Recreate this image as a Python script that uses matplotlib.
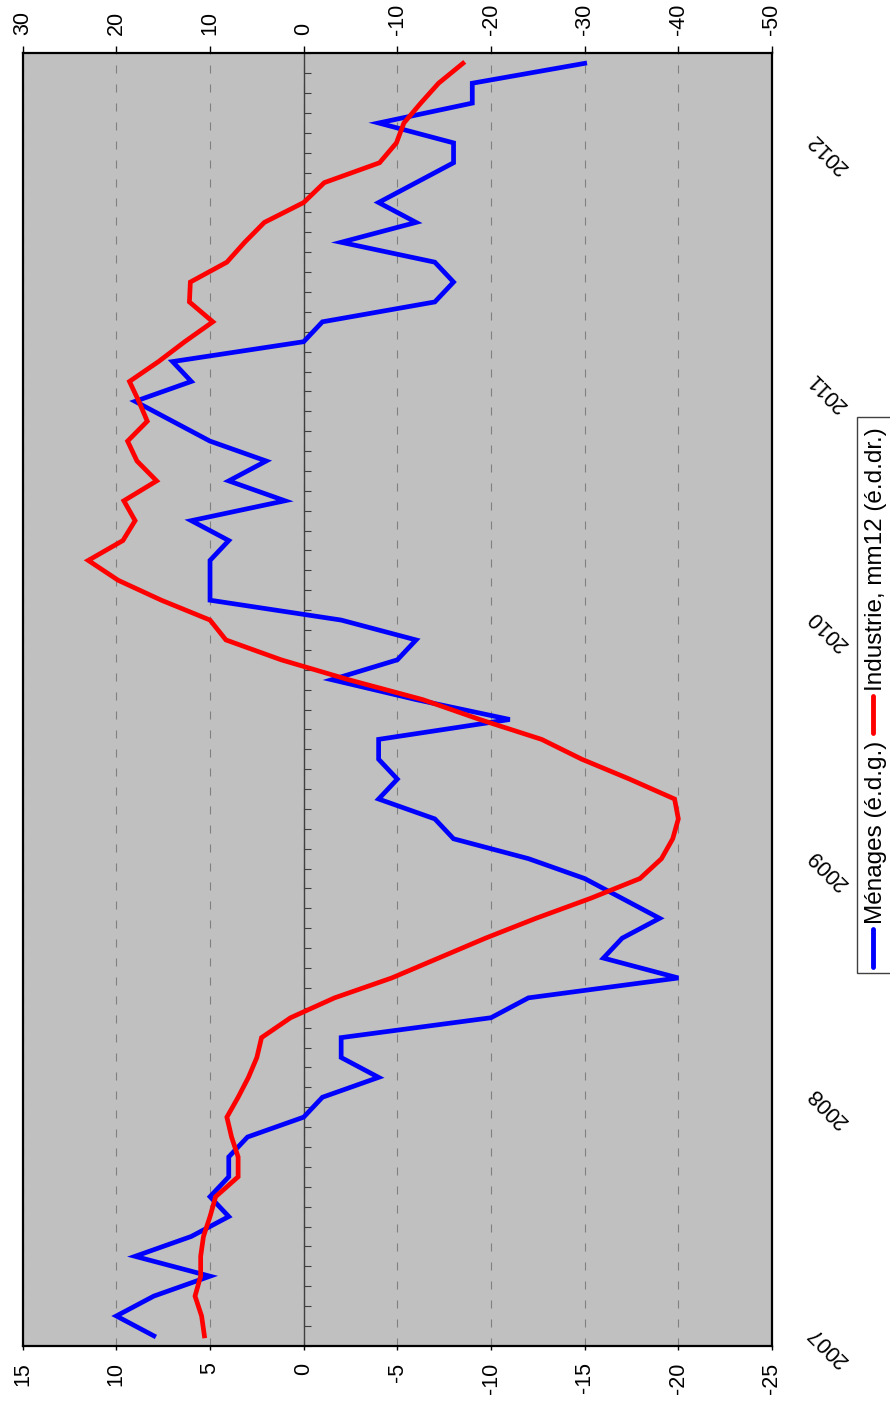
import numpy as np
import matplotlib
matplotlib.use("Agg")
import matplotlib.pyplot as plt
from matplotlib.patches import Rectangle
from matplotlib.lines import Line2D
from matplotlib.ticker import MultipleLocator
from matplotlib.transforms import blended_transform_factory

plt.rcParams["font.family"] = ["Liberation Sans", "DejaVu Sans"]
plt.rcParams["axes.unicode_minus"] = False

# monthly values, Jan 2007 -> May 2012
menages = [8, 10, 8, 5, 9, 6, 4, 5, 4, 4,
           3, 0, -1, -4, -2, -2, -10, -12, -20, -16,
           -17, -19, -17, -15, -12, -8, -7, -4, -5, -4,
           -4, -11, -6, -1.5, -5, -6, -2, 5, 5, 5,
           4, 6, 1, 4, 2, 5, 7, 9, 6, 7,
           0, -1, -7, -8, -7, -2, -6, -4, -6, -8,
           -8, -4, -9, -9, -15]
industrie = [10.6, 10.9, 11.6, 11.0, 11.0, 10.7, 10.0, 9.4, 7.0, 7.0,
             7.7, 8.2, 7.0, 5.9, 5.0, 4.5, 1.4, -3.3, -9.4, -14.4,
             -19.4, -24.8, -30.6, -35.9, -38.2, -39.4, -40.0, -39.6, -34.8, -29.7,
             -25.4, -18.8, -12.7, -4.8, 2.4, 8.3, 10.0, 15.2, 19.8, 23.0,
             19.3, 18.0, 19.2, 15.7, 17.8, 18.8, 16.7, 17.6, 18.6, 15.5,
             12.7, 9.7, 12.2, 12.1, 8.2, 6.3, 4.2, 0.0, -2.2, -8.1,
             -9.9, -10.7, -12.5, -14.4, -17.0]

years = ["2007", "2008", "2009", "2010", "2011", "2012"]
menages_ticks = [15, 10, 5, 0, -5, -10, -15, -20, -25]
industrie_ticks = [30, 20, 10, 0, -10, -20, -30, -40, -50]
legend_labels = ["Ménages (é.d.g.)", "Industrie, mm12 (é.d.dr.)"]

W, H = 890, 1409
fig = plt.figure(figsize = (W / 100, H / 100), dpi = 100)
fig.patch.set_facecolor("white")

# chart is drawn turned a quarter turn: time runs upwards
ax = fig.add_axes([22.7 / W, (H - 1345.8) / H,
                   (772 - 22.7) / W, (1345.8 - 53.4) / H])
ax.set_facecolor("#C0C0C0")

n = len(menages)
t = np.arange(n) + 0.5

ax.plot(menages, t, color = "#0000FF", lw = 3.4, solid_joinstyle = "miter",
        zorder = 2)
ax.set_xlim(menages_ticks[0], menages_ticks[-1])
ax.set_ylim(0, n)
ax.set_xticks(menages_ticks)
ax.set_xticklabels([str(v) for v in menages_ticks])
ax.xaxis.grid(True, color = "#808080", lw = 0.8, linestyle = (0, (7.2, 9.9)))
ax.tick_params(axis = "x", direction = "out", length = 3, width = 1,
               labelsize = 15.5, labelrotation = 90, pad = 9)

# zero line carrying the monthly ticks
for side in ("top", "right", "bottom"):
    ax.spines[side].set_visible(False)
ax.spines["left"].set_position(("data", 0))
ax.spines["left"].set_color("#404040")
ax.spines["left"].set_linewidth(1)
ax.spines["left"].set_zorder(1.8)
ax.yaxis.set_ticks_position("left")
ax.yaxis.set_major_locator(MultipleLocator(1))
ax.tick_params(axis = "y", direction = "in", length = 5.3, width = 0.8,
               color = "#404040", labelleft = False)

ax2 = ax.twiny()
ax2.plot(industrie, t, color = "#FF0000", lw = 3.4, solid_joinstyle = "miter")
ax2.set_xlim(industrie_ticks[0], industrie_ticks[-1])
ax2.set_xticks(industrie_ticks)
ax2.set_xticklabels([str(v) for v in industrie_ticks])
ax2.tick_params(axis = "x", direction = "out", length = 5, width = 1,
                labelsize = 15.5, labelrotation = 90, pad = 8)
for side in ("top", "right", "bottom", "left"):
    ax2.spines[side].set_color("black")
    ax2.spines[side].set_linewidth(1.6)

# year labels on the right side
trans = blended_transform_factory(ax.transAxes, ax.transData)
for k, year in enumerate(years):
    ax.text(1.0748, 12 * k, year, transform = trans, rotation = 135,
            ha = "center", va = "center", fontsize = 15.5)

# legend box, turned like the rest
fig.add_artist(Rectangle((857 / W, (H - 973) / H), 0.06, (973 - 417) / H,
                         transform = fig.transFigure, facecolor = "white",
                         edgecolor = "#404040", lw = 1))
fig.add_artist(Line2D([873 / W, 873 / W], [(H - 967) / H, (H - 929) / H],
                      transform = fig.transFigure, color = "#0000FF",
                      lw = 3.5, solid_capstyle = "round"))
fig.text(876 / W, (H - 924) / H, legend_labels[0], rotation = 90,
         ha = "center", va = "bottom", fontsize = 17.5)
fig.add_artist(Line2D([873 / W, 873 / W], [(H - 733) / H, (H - 696) / H],
                      transform = fig.transFigure, color = "#FF0000",
                      lw = 3.5, solid_capstyle = "round"))
fig.text(876 / W, (H - 691) / H, legend_labels[1], rotation = 90,
         ha = "center", va = "bottom", fontsize = 17.5)

fig.savefig("out.png", dpi = 100, facecolor = "white")
